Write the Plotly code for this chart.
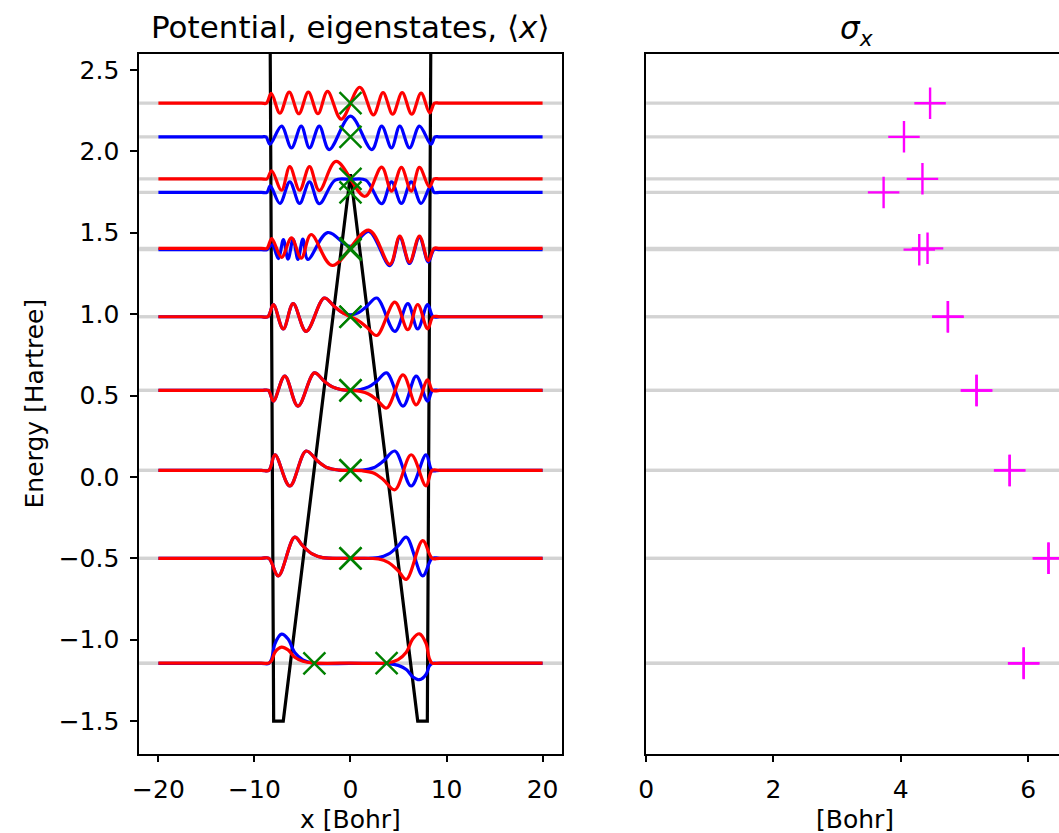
import plotly.graph_objects as go

# ---------------- data ----------------
# potential (black)
pot_x = [-20, -9, -8, -7, 0, 7, 8, 9, 20]
pot_v = [10, 10, -1.5, -1.5, 1.86, -1.5, -1.5, 10, 10]

# eigen-energies (ascending), colour of each state, <x> and sigma_x
energies = [-1.146, -1.144, -0.500, -0.500, 0.040, 0.040, 0.531, 0.531,
            0.984, 0.984, 1.396, 1.404, 1.748, 1.831, 2.089, 2.296]
state_colors = ["blue", "red", "blue", "red", "blue", "red", "blue", "red",
                "blue", "red", "blue", "red", "blue", "red", "blue", "red"]
mean_x = [-3.76, 3.76, 0, 0, 0, 0, 0, 0, 0, 0, 0, 0, 0, 0, 0, 0]
sigma_x = [5.93, 5.93, 6.32, 6.32, 5.71, 5.71, 5.19, 5.19,
           4.74, 4.74, 4.29, 4.42, 3.73, 4.34, 4.05, 4.46]

# wavefunction samples (x [Bohr], displacement from the energy line [Hartree])
psi0_x = [-20, -9.3, -8.5, -8.2, -7.86, -7.18, -6.5, -5.81, -4.96, -3.93, 0,
          3.93, 4.96, 5.81, 6.5, 7.18, 7.86, 8.2, 8.5, 9.3, 20]
psi0_blue = [0, 0, 0, 0.03, 0.122, 0.18, 0.15, 0.067, 0.022, 0.002, 0,
             -0.001, -0.012, -0.037, -0.083, -0.10, -0.068, -0.017, 0, 0, 0]
psi0_red = [0, 0, 0, 0.017, 0.067, 0.098, 0.081, 0.036, 0.012, 0.001, 0,
            0.002, 0.022, 0.067, 0.15, 0.18, 0.122, 0.03, 0, 0, 0]

psi1_x = [-20, -9.3, -8.5, -7.52, -5.81, -4.96, -3.93, -2.9, 0,
          2.9, 3.93, 4.96, 5.81, 7.52, 8.5, 9.3, 20]
psi1_blue = [0, 0, 0, -0.108, 0.13, 0.076, 0.025, 0.004, 0,
             0.004, 0.025, 0.076, 0.13, -0.108, 0, 0, 0]
psi1_red = [0, 0, 0, -0.108, 0.13, 0.076, 0.025, 0.004, 0,
            -0.004, -0.025, -0.076, -0.13, 0.108, 0, 0, 0]

psi2_x = [-20, -9.3, -8.5, -7.86, -6.32, -4.62, -3.42, -2.39, -1.2, 0,
          1.2, 2.39, 3.42, 4.62, 6.32, 7.86, 8.5, 9.3, 20]
psi2_blue = [0, 0, 0, 0.095, -0.096, 0.119, 0.057, 0.016, 0.002, 0,
             0.002, 0.016, 0.057, 0.119, -0.096, 0.095, 0, 0, 0]
psi2_red = [0, 0, 0, 0.095, -0.096, 0.119, 0.057, 0.016, 0.002, 0,
            -0.002, -0.016, -0.057, -0.119, 0.096, -0.095, 0, 0, 0]

psi3_x = [-20, -9.3, -8.55, -8.03, -6.84, -5.47, -3.76, -2.74, -1.88, -1.03, 0,
          1.03, 1.88, 2.74, 3.76, 5.47, 6.84, 8.03, 8.55, 9.3, 20]
psi3_blue = [0, 0, 0, -0.065, 0.088, -0.096, 0.108, 0.057, 0.022, 0.006, 0,
             0.006, 0.022, 0.057, 0.108, -0.096, 0.088, -0.065, 0, 0, 0]
psi3_red = [0, 0, 0, -0.065, 0.088, -0.096, 0.108, 0.057, 0.022, 0.006, 0,
            -0.006, -0.022, -0.057, -0.108, 0.096, -0.088, 0.065, 0, 0, 0]

psi4_x = [-20, -9.3, -8.6, -8.03, -7.0, -5.97, -4.62, -2.74, -1.71, -0.85, 0,
          0.85, 1.71, 2.74, 4.62, 5.97, 7.0, 8.03, 8.6, 9.3, 20]
psi4_blue = [0, 0, 0, 0.074, -0.075, 0.08, -0.09, 0.115, 0.065, 0.025, 0.012,
             0.025, 0.065, 0.115, -0.09, 0.08, -0.075, 0.074, 0, 0, 0]
psi4_red = [0, 0, 0, 0.074, -0.075, 0.08, -0.09, 0.115, 0.065, 0.025, 0,
            -0.025, -0.065, -0.115, 0.09, -0.08, 0.075, -0.074, 0, 0, 0]

psi5_blue_x = [-20, -9.3, -8.7, -8.15, -7.5, -6.99, -6.5, -5.97, -5.47, -4.96,
               -4.44, -2.39, 0, 1.9, 4.1, 5.13, 6.15, 7.18, 8.1, 8.7, 9.3, 20]
psi5_blue = [0, 0, 0, 0.03, -0.055, 0.062, -0.058, 0.064, -0.06, 0.065,
             -0.06, 0.105, 0.02, 0.112, -0.098, 0.076, -0.085, 0.076, -0.075,
             0, 0, 0]
psi5_red_x = [-20, -9.3, -8.7, -8.2, -7.18, -6.15, -5.13, -4.1, -1.9,
              1.9, 4.1, 5.13, 6.15, 7.18, 8.1, 8.7, 9.3, 20]
psi5_red = [0, 0, 0, 0.06, -0.055, 0.065, -0.06, 0.085, -0.105,
            0.112, -0.098, 0.076, -0.085, 0.076, -0.075, 0, 0, 0]

psi6_x = [-20, -9.3, -8.7, -8.35, -7.35, -6.32, -5.3, -4.27, -3.25, -1.6, 0,
          1.6, 3.25, 4.27, 5.3, 6.32, 7.35, 8.35, 8.7, 9.3, 20]
psi6_blue = [0, 0, 0, 0.04, -0.068, 0.065, -0.068, 0.065, -0.07, 0.075, 0.08,
             0.075, -0.07, 0.065, -0.068, 0.065, -0.068, 0.04, 0, 0, 0]

psi7_x = [-20, -9.3, -8.7, -8.21, -7.18, -6.32, -5.3, -4.27, -3.25, -1.5,
          1.5, 3.25, 4.27, 5.3, 6.32, 7.18, 8.21, 8.7, 9.3, 20]
psi7_red = [0, 0, 0, 0.05, -0.07, 0.075, -0.07, 0.075, -0.072, 0.107,
            -0.107, 0.072, -0.075, 0.07, -0.075, 0.07, -0.05, 0, 0, 0]

psi8_x = [-20, -9.3, -8.8, -8.38, -7.18, -6.15, -5.13, -4.27, -3.25, -2.22, 0,
          2.22, 3.25, 4.27, 5.13, 6.15, 7.18, 8.38, 8.8, 9.3, 20]
psi8_blue = [0, 0, 0, -0.045, 0.066, -0.068, 0.066, -0.068, 0.066, -0.078, 0.127,
             -0.078, 0.066, -0.068, 0.066, -0.068, 0.066, -0.045, 0, 0, 0]

psi9_x = [-20, -9.3, -8.75, -8.25, -7.35, -6.38, -5.38, -4.39, -3.39, -2.39,
          -0.97, 0.97, 2.39, 3.39, 4.39, 5.38, 6.38, 7.35, 8.25, 8.75, 9.3, 20]
psi9_red = [0, 0, 0, 0.06, -0.062, 0.068, -0.065, 0.068, -0.065, 0.072,
            -0.098, 0.098, -0.072, 0.065, -0.068, 0.065, -0.068, 0.062, -0.06,
            0, 0, 0]

# curves in drawing order: (x samples, displacement, state index)
curves = [
    (psi0_x, psi0_blue, 0), (psi0_x, psi0_red, 1),
    (psi1_x, psi1_blue, 2), (psi1_x, psi1_red, 3),
    (psi2_x, psi2_blue, 4), (psi2_x, psi2_red, 5),
    (psi3_x, psi3_blue, 6), (psi3_x, psi3_red, 7),
    (psi4_x, psi4_blue, 8), (psi4_x, psi4_red, 9),
    (psi5_blue_x, psi5_blue, 10), (psi5_red_x, psi5_red, 11),
    (psi6_x, psi6_blue, 12), (psi7_x, psi7_red, 13),
    (psi8_x, psi8_blue, 14), (psi9_x, psi9_red, 15),
]

x_ticks_left = [-20, -10, 0, 10, 20]
y_ticks = [-1.5, -1.0, -0.5, 0.0, 0.5, 1.0, 1.5, 2.0, 2.5]
x_ticks_right = [0, 2, 4, 6]

# ---------------- figure ----------------
W, H = 1059, 833
FONT = "DejaVu Sans"
COLORS = {"blue": "#0000FF", "red": "#FF0000"}

fig = go.Figure()

fig.add_trace(go.Scatter(x=pot_x, y=pot_v, mode="lines",
                         line=dict(color="black", width=3.2),
                         xaxis="x", yaxis="y", showlegend=False))

for xs, ps, i in curves:
    fig.add_trace(go.Scatter(
        x=xs, y=[energies[i] + p for p in ps], mode="lines",
        line=dict(color=COLORS[state_colors[i]], width=3.2, shape="spline"),
        xaxis="x", yaxis="y", showlegend=False))

fig.add_trace(go.Scatter(x=mean_x, y=energies, mode="markers",
                         marker=dict(symbol="x-thin", size=22,
                                     line=dict(color="#008000", width=2.4)),
                         xaxis="x", yaxis="y", showlegend=False))

fig.add_trace(go.Scatter(x=sigma_x, y=energies, mode="markers",
                         marker=dict(symbol="cross-thin", size=22.5,
                                     line=dict(color="#FF00FF", width=2.4)),
                         xaxis="x2", yaxis="y2", showlegend=False))

shapes = []
for e in energies:
    for xr, yr in (("x domain", "y"), ("x2 domain", "y2")):
        shapes.append(dict(type="line", xref=xr, yref=yr, x0=0, x1=1, y0=e, y1=e,
                           line=dict(color="#D3D3D3", width=3.2), layer="below"))

L0, L1 = 132.2 / W, 558 / W
R0 = 643 / W
B0, T0 = (H - 753.6) / H, (H - 53.7) / H

axis_style = dict(showgrid=False, zeroline=False, showline=True,
                  linecolor="black", linewidth=1.7, ticks="outside",
                  ticklen=7, tickwidth=1.7, tickcolor="black",
                  tickfont=dict(family=FONT, size=25, color="black"),
                  ticklabelstandoff=6)

fig.update_layout(
    width=W, height=H,
    margin=dict(l=0, r=0, t=0, b=0),
    paper_bgcolor="white", plot_bgcolor="white",
    shapes=shapes,
    xaxis=dict(domain=[L0, L1], range=[-22, 22], tickvals=x_ticks_left,
               mirror=True, anchor="y", **axis_style),
    yaxis=dict(domain=[B0, T0], range=[-1.7, 2.6], tickvals=y_ticks,
               tickformat=".1f", mirror=True, anchor="x", **axis_style),
    xaxis2=dict(domain=[R0, 1.0], range=[0, 6.485], tickvals=x_ticks_right,
                mirror=True, anchor="y2", **axis_style),
    yaxis2=dict(domain=[B0, T0], matches="y", anchor="x2", showticklabels=False,
                showgrid=False, zeroline=False, showline=True, linecolor="black",
                linewidth=1.7, ticks=""),
    annotations=[
        dict(text="Potential, eigenstates, ⟨<i>x</i>⟩", x=(L0 + L1) / 2, y=1 - 27 / H,
             xref="paper", yref="paper", showarrow=False, xanchor="center",
             yanchor="middle", font=dict(family=FONT, size=31, color="black")),
        dict(text="<i>σ<sub>x</sub></i>", x=855.5 / W, y=1 - 30 / H,
             xref="paper", yref="paper", showarrow=False, xanchor="center",
             yanchor="middle", font=dict(family=FONT, size=31, color="black")),
        dict(text="x [Bohr]", x=(L0 + L1) / 2, y=1 - 819 / H,
             xref="paper", yref="paper", showarrow=False, xanchor="center",
             yanchor="middle", font=dict(family=FONT, size=25, color="black")),
        dict(text="[Bohr]", x=853 / W, y=1 - 819 / H,
             xref="paper", yref="paper", showarrow=False, xanchor="center",
             yanchor="middle", font=dict(family=FONT, size=25, color="black")),
        dict(text="Energy [Hartree]", x=27 / W, y=(B0 + T0) / 2, textangle=-90,
             xref="paper", yref="paper", showarrow=False, xanchor="center",
             yanchor="middle", font=dict(family=FONT, size=25, color="black")),
    ],
)

fig.write_html(
    "out.html",
    config={"displayModeBar": False},
    post_script="document.body.style.margin='0px';"
                "document.documentElement.style.overflow='hidden';",
)
